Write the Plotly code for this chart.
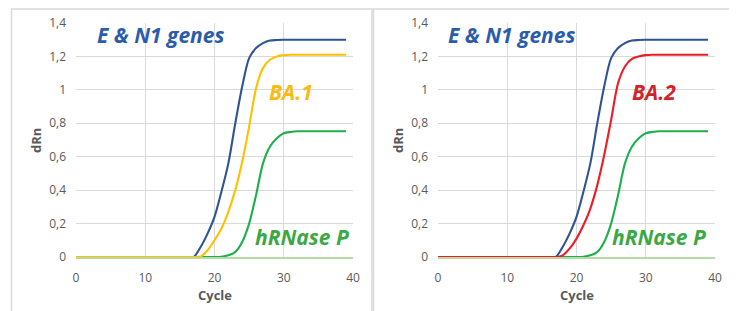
import plotly.graph_objects as go

# ---------------- data ----------------
cycles = list(range(0, 40))

e_n1 = [0]*17 + [0.0, 0.06, 0.14, 0.24, 0.39, 0.56, 0.80, 1.02, 1.19, 1.25,
                 1.28, 1.295, 1.298] + [1.30]*10
ba1 = [0]*18 + [0.003, 0.04, 0.10, 0.17, 0.27, 0.40, 0.57, 0.78, 1.01, 1.13,
                1.18, 1.20, 1.208] + [1.21]*9
ba2 = [0]*18 + [0.01, 0.05, 0.11, 0.19, 0.29, 0.43, 0.61, 0.82, 1.04, 1.14,
                1.185, 1.20, 1.208] + [1.21]*9
hrnase = [0]*21 + [0.002, 0.01, 0.03, 0.09, 0.20, 0.37, 0.56, 0.66, 0.71, 0.74,
                   0.748] + [0.752]*8

y_ticks = [0, 0.2, 0.4, 0.6, 0.8, 1.0, 1.2, 1.4]
y_tick_labels = ["0", "0,2", "0,4", "0,6", "0,8", "1", "1,2", "1,4"]
x_ticks = [0, 10, 20, 30, 40]

# ---------------- style ----------------
OFF = 8                      # page body margin
W, H = 737 - OFF, 311 - OFF  # figure size so the page fits the window
BLUE_L, BLUE_T = "#2f5496", "#2b5cab"
YEL_L, YEL_T = "#ffc000", "#fdb913"
RED_L, RED_T = "#ee1c25", "#d1232a"
GRN_L, GRN_T = "#1daf4b", "#3aa843"
GRID = "#d9d9d9"
TICKC = "#595959"
FONT = "Open Sans"

def px_x(p):
    return (p - OFF) / W

def px_y(p):
    return (H - (p - OFF)) / H

fig = go.Figure()

def add_panel(xa, ya, mid_series, mid_color):
    for ys, col in [(hrnase, GRN_L), (e_n1, BLUE_L), (mid_series, mid_color)]:
        fig.add_trace(go.Scatter(x=cycles, y=ys, mode="lines", xaxis=xa, yaxis=ya,
                                 line=dict(color=col, width=2.1, shape="spline", smoothing=0.8),
                                 hoverinfo="skip", showlegend=False))

add_panel("x", "y", ba1, YEL_L)
add_panel("x2", "y2", ba2, RED_L)

ydom = [px_y(257), px_y(23)]
xcommon = dict(range=[0, 40], tickvals=x_ticks, showgrid=True, gridcolor=GRID, gridwidth=1,
               zeroline=False, showline=True, linecolor="#b5dba5", linewidth=1.5,
               layer="below traces", automargin=False,
               tickfont=dict(family=FONT, size=12, color=TICKC), ticks="",
               ticklabelstandoff=9, fixedrange=True)
ycommon = dict(range=[0, 1.4], tickvals=y_ticks, ticktext=y_tick_labels, showgrid=True,
               gridcolor=GRID, gridwidth=1, zeroline=False, showline=False,
               layer="below traces", automargin=False,
               tickfont=dict(family=FONT, size=12, color=TICKC), ticks="",
               ticklabelstandoff=9, domain=ydom, fixedrange=True)

fig.update_layout(
    width=W, height=H, margin=dict(l=0, r=0, t=0, b=0, autoexpand=False),
    paper_bgcolor="white", plot_bgcolor="white",
    xaxis=dict(xcommon, domain=[px_x(76), px_x(353)], anchor="y"),
    yaxis=dict(ycommon, anchor="x"),
    xaxis2=dict(xcommon, domain=[px_x(438), px_x(715)], anchor="y2"),
    yaxis2=dict(ycommon, anchor="x2"),
)

# panel borders
for x0, x1 in [(11.5, 372), (373.5, 734)]:
    fig.add_shape(type="rect", xref="paper", yref="paper",
                  x0=px_x(x0), x1=px_x(x1), y0=-0.05, y1=px_y(9),
                  line=dict(color="#d9d9d9", width=1.5), fillcolor="rgba(0,0,0,0)", layer="below")

# axis titles
for cx, dx in [(214.5, 36), (576.5, 398)]:
    fig.add_annotation(text="<b>Cycle</b>", xref="paper", yref="paper", x=px_x(cx), y=px_y(295),
                       showarrow=False, xanchor="center", yanchor="middle",
                       font=dict(family=FONT, size=13, color=TICKC))
    fig.add_annotation(text="<b>dRn</b>", xref="paper", yref="paper", x=px_x(dx), y=px_y(141),
                       showarrow=False, xanchor="center", yanchor="middle", textangle=-90,
                       font=dict(family=FONT, size=13, color=TICKC))

# series labels
def label(text, xref, yref, x, y, color):
    fig.add_annotation(text="<b><i>" + text + "</i></b>", xref=xref, yref=yref, x=x, y=y,
                       showarrow=False, xanchor="left", yanchor="middle",
                       font=dict(family=FONT, size=21, color=color))

label("E &amp; N1 genes", "x", "y", 2.8, 1.33, BLUE_T)
label("BA.1", "x", "y", 27.6, 0.99, YEL_T)
label("hRNase P", "x", "y", 25.5, 0.12, GRN_T)
label("E &amp; N1 genes", "x2", "y2", 1.2, 1.33, BLUE_T)
label("BA.2", "x2", "y2", 27.7, 0.99, RED_T)
label("hRNase P", "x2", "y2", 24.8, 0.12, GRN_T)

fig.write_html("out.html")
